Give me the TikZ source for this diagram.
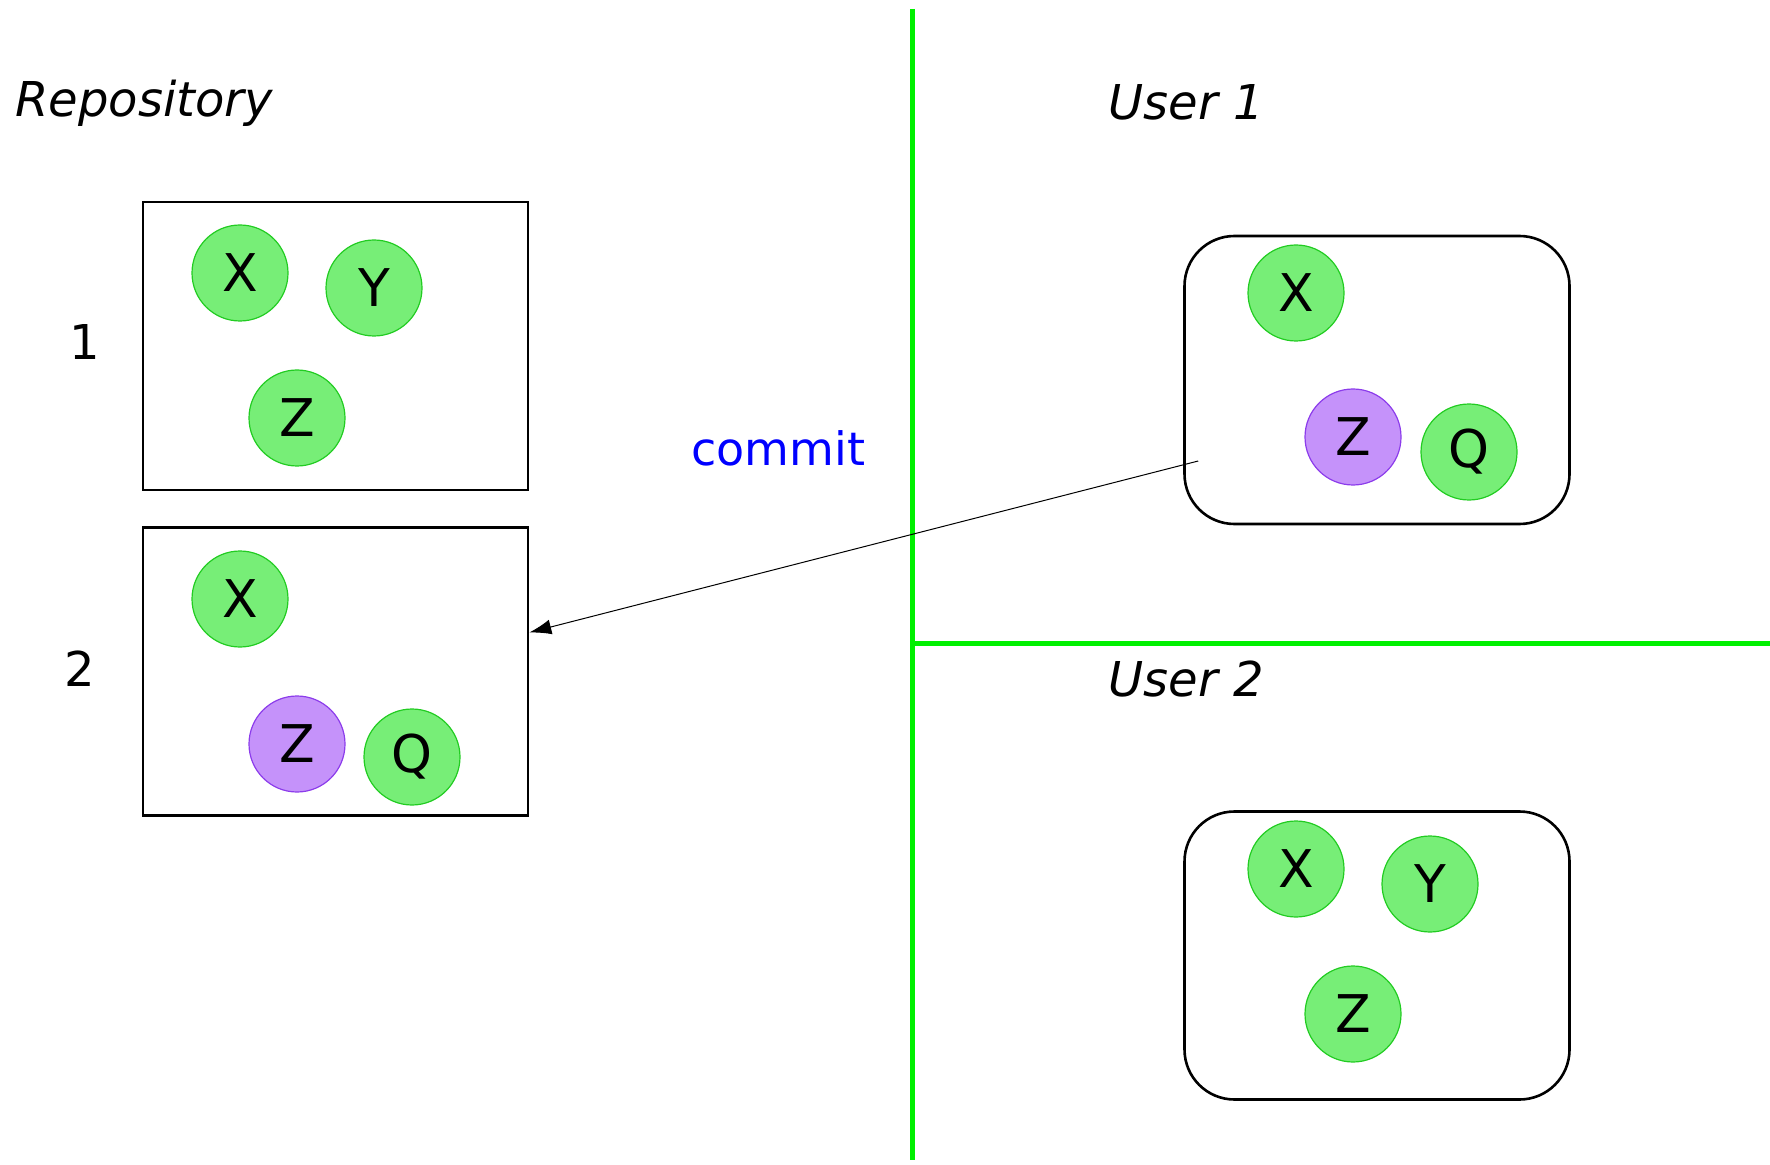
\documentclass[tikz,border=0pt]{standalone}
\usepackage{fontspec}
\setmainfont{DejaVu Sans}
\usetikzlibrary{arrows.meta,calc}
\definecolor{tokfill}{RGB}{119,238,119}
\definecolor{tokline}{RGB}{34,204,34}
\definecolor{modfill}{RGB}{197,146,250}
\definecolor{modline}{RGB}{140,60,235}
\definecolor{divider}{RGB}{0,240,0}
\tikzset{
  token/.style={circle,draw=tokline,fill=tokfill,line width=0.6pt,minimum size=48pt,inner sep=0pt,font=\fontsize{26}{26}\selectfont},
  changed/.style={token,draw=modline,fill=modfill},
  snapshot/.style={draw=black,line width=1.3pt,minimum width=192.5pt,minimum height=144pt,inner sep=0pt},
  workcopy/.style={snapshot,rounded corners=25pt},
  heading/.style={font=\fontsize{24}{24}\selectfont\itshape,anchor=base west,inner sep=0pt},
  version/.style={font=\fontsize{24}{24}\selectfont,anchor=base,inner sep=0pt},
  wall/.style={draw=divider,line width=2.5pt},
}
\begin{document}
\begin{tikzpicture}[x=0.5pt,y=-0.5pt]
\useasboundingbox (0,0) rectangle (1770,1165);

% dividers between repository and users
\coordinate (wtop) at (912,9);
\coordinate (wbot) at (912,1160);
\coordinate (wmid) at (912,643);
\coordinate (wright) at (1770,643);
\draw[wall] (wtop) -- (wbot);
\draw[wall] (wmid) -- (wright);

% headings
\node[heading] (hrepo) at (15,117) {Repository};
\node[heading] (huser1) at (1108,120) {User 1};
\node[heading] (huser2) at (1108,696) {User 2};

% repository versions
\node[snapshot] (repo1) at (335.5,346) {};
\node[snapshot] (repo2) at (335.5,671.5) {};
\node[version] (v1) at (85,360) {1};
\node[version] (v2) at (80,686) {2};

\node[token] (r1x) at (240,273) {X};
\node[token] (r1y) at (374,288) {Y};
\node[token] (r1z) at (297,418) {Z};

\node[token] (r2x) at (240,599) {X};
\node[changed] (r2z) at (297,744) {Z};
\node[token] (r2q) at (412,757) {Q};

% working copies
\node[workcopy] (user1) at (1377,380) {};
\node[token] (u1x) at (1296,293) {X};
\node[changed] (u1z) at (1353,437) {Z};
\node[token] (u1q) at (1469,452) {Q};

\node[workcopy] (user2) at (1377,955.5) {};
\node[token] (u2x) at (1296,869) {X};
\node[token] (u2y) at (1430,884) {Y};
\node[token] (u2z) at (1353,1014) {Z};

% commit from user 1 into the repository
\coordinate (cfrom) at ([xshift=7.5pt,yshift=-40.5pt]user1.west);
\coordinate (cto) at ([yshift=19.5pt]repo2.east);
\draw[line width=0.5pt,-{Latex[length=11pt,width=7.5pt]}] (cfrom) -- (cto);
\node[font=\fontsize{23}{23}\selectfont,text=blue,anchor=base west,inner sep=0pt] (lcommit) at (691,466) {commit};
\end{tikzpicture}
\end{document}
